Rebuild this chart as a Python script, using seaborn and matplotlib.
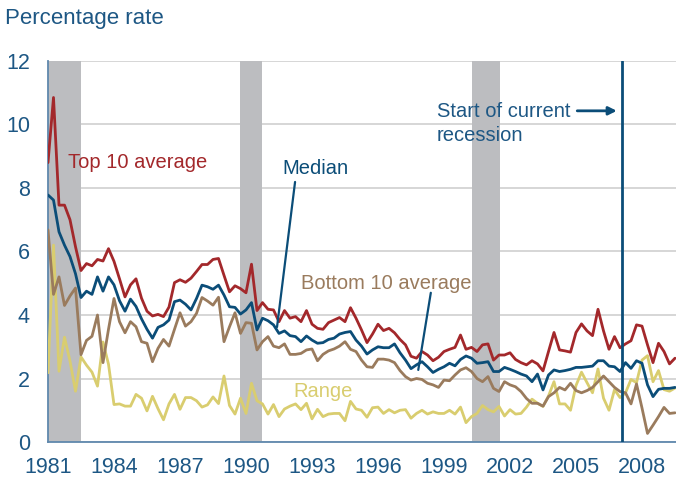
import numpy as np
import pandas as pd
import matplotlib
matplotlib.use("Agg")
import matplotlib.pyplot as plt
import seaborn as sns

# quarterly values, 1981Q1 onwards
top10 = [8.8, 10.85, 7.46, 7.46, 7.0, 6.15, 5.4, 5.62, 5.55, 5.75,
         5.7, 6.09, 5.69, 5.14, 4.57, 4.95, 5.14, 4.53, 4.12, 3.97,
         4.02, 3.95, 4.25, 5.02, 5.11, 5.03, 5.16, 5.37, 5.59, 5.59,
         5.75, 5.78, 5.25, 4.73, 4.92, 4.83, 4.7, 5.6, 4.14, 4.39,
         4.18, 4.16, 3.79, 4.14, 3.9, 3.95, 3.79, 4.14, 3.71, 3.58,
         3.55, 3.76, 3.84, 3.92, 3.79, 4.23, 3.9, 3.53, 3.13, 3.4,
         3.71, 3.51, 3.58, 3.44, 3.23, 3.06, 2.7, 2.64, 2.85, 2.74,
         2.56, 2.67, 2.85, 2.92, 2.98, 3.37, 2.92, 2.98, 2.85, 3.06,
         3.09, 2.58, 2.74, 2.74, 2.81, 2.6, 2.5, 2.43, 2.56, 2.46,
         2.24, 2.85, 3.45, 2.9, 2.87, 2.83, 3.45, 3.72, 3.5, 3.35,
         4.18, 3.5, 2.92, 3.32, 2.97, 3.09, 3.19, 3.69, 3.65, 3.06,
         2.5, 3.11, 2.85, 2.46, 2.64]

median = [7.78, 7.62, 6.62, 6.2, 5.84, 5.3, 4.55, 4.75, 4.65, 5.2,
          4.75, 5.2, 4.95, 4.45, 4.12, 4.5, 4.27, 3.88, 3.55, 3.27,
          3.61, 3.69, 3.84, 4.42, 4.47, 4.34, 4.16, 4.52, 4.94, 4.89,
          4.81, 4.94, 4.63, 4.26, 4.24, 4.03, 4.16, 4.39, 3.53, 3.9,
          3.82, 3.69, 3.42, 3.5, 3.35, 3.32, 3.16, 3.34, 3.21, 3.11,
          3.13, 3.23, 3.27, 3.4, 3.45, 3.48, 3.21, 3.02, 2.77, 2.9,
          3.0, 2.97, 2.97, 3.09, 2.81, 2.58, 2.31, 2.43, 2.53, 2.37,
          2.19, 2.29, 2.37, 2.48, 2.4, 2.6, 2.71, 2.64, 2.48, 2.5,
          2.53, 2.22, 2.22, 2.35, 2.29, 2.22, 2.14, 2.08, 1.9, 2.14,
          1.64, 2.11, 2.27, 2.22, 2.25, 2.29, 2.35, 2.35, 2.37, 2.39,
          2.56, 2.56, 2.39, 2.37, 2.22, 2.5, 2.32, 2.56, 2.48, 1.8,
          1.43, 1.66, 1.69, 1.69, 1.72]

bottom10 = [6.68, 4.65, 5.2, 4.3, 4.6, 4.85, 2.75, 3.2, 3.33, 4.0,
            2.5, 3.55, 4.52, 3.79, 3.44, 3.79, 3.63, 3.16, 3.11, 2.53,
            2.95, 3.23, 3.02, 3.55, 4.07, 3.65, 3.79, 4.05, 4.55, 4.44,
            4.31, 4.56, 3.16, 3.63, 4.07, 3.42, 3.76, 3.74, 2.9, 3.16,
            3.32, 3.02, 2.97, 3.09, 2.76, 2.76, 2.79, 2.9, 2.93, 2.56,
            2.76, 2.87, 2.93, 3.02, 3.16, 2.92, 2.85, 2.58, 2.37, 2.35,
            2.61, 2.61, 2.58, 2.5, 2.25, 2.06, 1.95, 2.0, 1.97, 1.85,
            1.8, 1.72, 1.95, 1.93, 2.11, 2.27, 2.34, 2.22, 2.0, 1.9,
            2.06, 1.69, 1.59, 1.9, 1.8, 1.74, 1.59, 1.37, 1.22, 1.22,
            1.13, 1.43, 1.55, 1.72, 1.64, 1.85, 1.62, 1.55, 1.62, 1.72,
            1.9, 2.08, 1.9, 1.72, 1.59, 1.55, 1.2, 1.83, 1.07, 0.27,
            0.53, 0.8, 1.09, 0.9, 0.92]

range_vals = [2.18, 6.2, 2.23, 3.3, 2.55, 1.6, 2.68, 2.42, 2.2, 1.76,
              3.15, 2.45, 1.18, 1.2, 1.13, 1.13, 1.5, 1.38, 0.98, 1.44,
              1.05, 0.7, 1.2, 1.5, 1.03, 1.4, 1.4, 1.3, 1.1, 1.17,
              1.42, 1.21, 2.08, 1.15, 0.88, 1.38, 0.9, 1.85, 1.3, 1.2,
              0.88, 1.18, 0.8, 1.04, 1.13, 1.2, 1.02, 1.22, 0.73, 1.03,
              0.8, 0.88, 0.9, 0.9, 0.67, 1.28, 1.04, 1.0, 0.78, 1.08,
              1.1, 0.9, 1.02, 0.92, 1.0, 1.02, 0.75, 0.9, 1.0, 0.88,
              0.95, 0.9, 0.9, 1.0, 0.88, 1.1, 0.61, 0.8, 0.9, 1.15,
              1.02, 0.95, 1.12, 0.82, 1.02, 0.88, 0.9, 1.1, 1.35, 1.22,
              1.12, 1.45, 1.9, 1.2, 1.2, 1.0, 1.78, 2.2, 1.87, 1.55,
              2.3, 1.38, 1.0, 1.65, 1.4, 1.55, 1.97, 1.87, 2.58, 2.72,
              1.9, 2.25, 1.65, 1.6, 1.7]

recessions = [(1981.0, 1982.5), (1989.73, 1990.73), (2000.27, 2001.55)]
current_start = 2007.1
year_ticks = [1981, 1984, 1987, 1990, 1993, 1996, 1999, 2002, 2005, 2008]

years = 1981 + 0.25 * np.arange(len(top10))
df = pd.DataFrame({
    "year": np.tile(years, 4),
    "rate": top10 + median + bottom10 + range_vals,
    "series": ["Top 10 average"] * len(top10) + ["Median"] * len(median)
              + ["Bottom 10 average"] * len(bottom10) + ["Range"] * len(range_vals),
})

red = "#a3282b"
blue = "#0b4d78"
brown = "#9a7b5d"
yellow = "#d9cd6f"
txt = "#1d5784"
spine = "#5f88ad"

sns.set_style("white")
plt.rcParams["font.family"] = ["Liberation Sans", "DejaVu Sans"]

fig = plt.figure(figsize=(6.76, 4.79), dpi=100)
ax = fig.add_axes([0.071, 0.0772, 0.929, 0.7955])

for a, b in recessions:
    ax.axvspan(a, b, color="#bcbdc0", lw=0, zorder=1)

sns.lineplot(data=df, x="year", y="rate", hue="series",
             palette={"Top 10 average": red, "Median": blue,
                      "Bottom 10 average": brown, "Range": yellow},
             hue_order=["Range", "Bottom 10 average", "Median", "Top 10 average"],
             linewidth=2, legend=False, ax=ax, zorder=3)

ax.axvline(current_start, color=blue, lw=2, zorder=4)

ax.set_xlim(1981, 2009.545)
ax.set_ylim(0, 12)
ax.set_xticks(year_ticks)
ax.set_yticks(range(0, 13, 2))
ax.set_xlabel("")
ax.set_ylabel("")
ax.grid(axis="y", color="#cfcfcf", lw=1.2, zorder=0)
ax.set_axisbelow(True)
for s in ["top", "right"]:
    ax.spines[s].set_visible(False)
for s in ["left", "bottom"]:
    ax.spines[s].set_color(spine)
    ax.spines[s].set_linewidth(1.3)
ax.tick_params(axis="both", direction="in", colors=spine, labelcolor=txt,
               labelsize=15.5, length=6, width=1.2)
ax.tick_params(axis="y", pad=13)
ax.tick_params(axis="x", pad=11)

fig.text(0.007, 0.962, "Percentage rate", color=txt, fontsize=16, va="center", ha="left")

ax.text(1981.9, 8.8, "Top 10 average", color=red, fontsize=14.5, va="center")
ax.text(1991.67, 8.62, "Median", color=blue, fontsize=14.5, va="center")
ax.plot([1992.23, 1991.41], [8.19, 3.62], color=blue, lw=1.6, zorder=4)
ax.text(1992.5, 5.0, "Bottom 10 average", color=brown, fontsize=14.5, va="center")
ax.plot([1998.4, 1997.83], [4.70, 2.27], color=blue, lw=1.6, zorder=4)
ax.text(1992.15, 1.6, "Range", color=yellow, fontsize=14.5, va="center")
ax.text(1998.68, 10.7, "Start of current\nrecession", color=txt, fontsize=14.5,
        va="top", ha="left", linespacing=1.3)
ax.annotate("", xy=(current_start - 0.12, 10.43), xytext=(1998.68 + 6.25, 10.43),
            arrowprops=dict(arrowstyle="-|>", color=blue, lw=2, mutation_scale=12))

fig.savefig("out.png", dpi=100)
